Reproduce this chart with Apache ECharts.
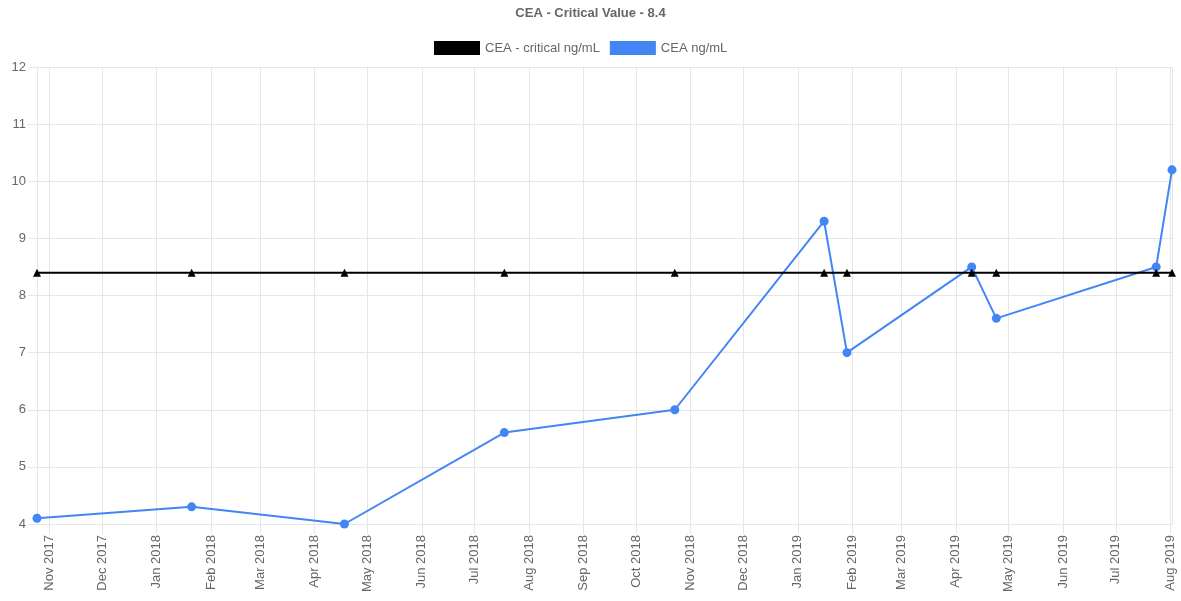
<!DOCTYPE html>
<html>
<head>
<meta charset="utf-8">
<title>CEA</title>
<script src="https://cdn.jsdelivr.net/npm/echarts@6/dist/echarts.min.js"></script>
<style>
  html, body { margin: 0; padding: 0; background: #fff; }
  #container { width: 1181px; height: 601px; }
</style>
</head>
<body>
<div id="container"></div>
<script type="text/javascript">
// test dates
var dates = ['2017-10-25', '2018-01-21', '2018-04-18', '2018-07-18', '2018-10-23',
             '2019-01-16', '2019-01-29', '2019-04-10', '2019-04-24', '2019-07-24', '2019-08-02'];
var ceaValues = [4.1, 4.3, 4.0, 5.6, 6.0, 9.3, 7.0, 8.5, 7.6, 8.5, 10.2];
var criticalValues = [8.4, 8.4, 8.4, 8.4, 8.4, 8.4, 8.4, 8.4, 8.4, 8.4, 8.4];
var monthNames = ['Jan', 'Feb', 'Mar', 'Apr', 'May', 'Jun', 'Jul', 'Aug', 'Sep', 'Oct', 'Nov', 'Dec'];
var yTicks = [4, 12, 1]; // min, max, step

var font = 'Helvetica, "Liberation Sans", Arial, sans-serif';
var gridColor = '#e6e6e6';

function toTime(s) {
    var p = s.split('-');
    return Date.UTC(+p[0], +p[1] - 1, +p[2]);
}
function pairs(vals) {
    var out = [];
    for (var i = 0; i < dates.length; i++) out.push([toTime(dates[i]), vals[i]]);
    return out;
}

var myChart = echarts.init(document.getElementById('container'));
var option = {
    animation: false,
    useUTC: true,
    title: {
        text: 'CEA - Critical Value - 8.4',
        left: 'center',
        top: 2,
        textStyle: { fontFamily: font, fontSize: 13, fontWeight: 'bold', color: '#666' }
    },
    legend: {
        top: 36,
        left: 429,
        itemWidth: 46,
        itemHeight: 14,
        itemGap: 10,
        icon: 'rect',
        textStyle: { fontFamily: font, fontSize: 13, color: '#666' },
        data: [
            { name: 'CEA - critical ng/mL', itemStyle: { color: '#000' } },
            { name: 'CEA ng/mL', itemStyle: { color: '#4285f4' } }
        ]
    },
    grid: { left: 37, right: 9, top: 67, bottom: 77 },
    xAxis: {
        type: 'time',
        min: toTime(dates[0]),
        max: toTime(dates[dates.length - 1]),
        minInterval: 28 * 86400000,
        maxInterval: 31 * 86400000,
        axisLine: { lineStyle: { color: gridColor } },
        axisTick: { show: true, length: 10, lineStyle: { color: gridColor } },
        splitLine: { show: true, lineStyle: { color: gridColor } },
        axisLabel: {
            rotate: 90,
            margin: 11,
            fontFamily: font,
            fontSize: 13,
            color: '#666',
            formatter: function (v) {
                var d = new Date(v);
                return monthNames[d.getUTCMonth()] + ' ' + d.getUTCFullYear();
            }
        }
    },
    yAxis: {
        type: 'value',
        min: yTicks[0],
        max: yTicks[1],
        interval: yTicks[2],
        axisLine: { show: true, lineStyle: { color: gridColor } },
        axisTick: { show: true, length: 9, lineStyle: { color: gridColor } },
        splitLine: { lineStyle: { color: gridColor } },
        axisLabel: { fontFamily: font, fontSize: 13, color: '#666', margin: 11 }
    },
    series: [
        {
            name: 'CEA ng/mL',
            type: 'line',
            data: pairs(ceaValues),
            z: 2,
            symbol: 'circle',
            symbolSize: 9,
            itemStyle: { color: '#4285f4' },
            lineStyle: { color: '#4285f4', width: 2 }
        },
        {
            name: 'CEA - critical ng/mL',
            type: 'line',
            data: pairs(criticalValues),
            z: 3,
            symbol: 'triangle',
            symbolSize: 8,
            itemStyle: { color: '#000' },
            lineStyle: { color: '#000', width: 2 }
        }
    ]
};
myChart.setOption(option);
</script>
</body>
</html>
